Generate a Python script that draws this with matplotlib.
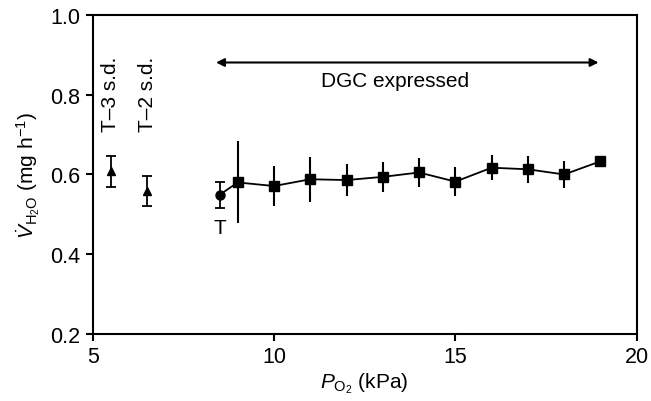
import matplotlib.pyplot as plt

plt.rcParams["font.family"] = ["Liberation Sans", "DejaVu Sans"]
plt.rcParams["mathtext.fontset"] = "custom"
plt.rcParams["mathtext.rm"] = "Liberation Sans"
plt.rcParams["mathtext.it"] = "Liberation Sans:italic"

# threshold points (T-3 s.d., T-2 s.d.)
thr_x = [5.5, 6.5]
thr_y = [0.608, 0.558]
thr_err = [0.039, 0.037]

# T point
t_x = [8.5]
t_y = [0.549]
t_err = [0.032]

# DGC series
po2 = [9, 10, 11, 12, 13, 14, 15, 16, 17, 18, 19]
vh2o = [0.580, 0.571, 0.588, 0.586, 0.594, 0.605, 0.582, 0.617, 0.613, 0.600, 0.633]
vh2o_err = [0.103, 0.051, 0.056, 0.040, 0.037, 0.036, 0.037, 0.032, 0.034, 0.034, 0.012]

fig = plt.figure(figsize=(6.51, 4.02), dpi=100)
ax = fig.add_axes([0.1424, 0.167, 0.8356, 0.793])

ax.errorbar(thr_x, thr_y, yerr=thr_err, fmt="^", color="black", ms=6,
            capsize=3.5, elinewidth=1.3, capthick=1.3)
ax.errorbar(po2, vh2o, yerr=vh2o_err, fmt="s-", color="black", ms=7,
            lw=1.3, capsize=0, elinewidth=1.5)
ax.plot([t_x[0], po2[0]], [t_y[0], vh2o[0]], color="black", lw=1.3)
ax.errorbar(t_x, t_y, yerr=t_err, fmt="o", color="black", ms=6.5,
            capsize=3.5, elinewidth=1.3, capthick=1.3)

ax.text(5.5, 0.71, "T\u20133 s.d.", rotation=90, ha="center", va="bottom", fontsize=15)
ax.text(6.5, 0.71, "T\u20132 s.d.", rotation=90, ha="center", va="bottom", fontsize=15)
ax.text(8.5, 0.468, "T", ha="center", va="center", fontsize=15)

ax.annotate("", xy=(8.4, 0.881), xytext=(18.95, 0.881),
            arrowprops=dict(arrowstyle="<|-|>", color="black", lw=1.5,
                            mutation_scale=12, shrinkA=0, shrinkB=0))
ax.text(13.35, 0.835, "DGC expressed", ha="center", va="center", fontsize=15)

ax.set_xlim(5, 20)
ax.set_ylim(0.2, 1.0)
ax.set_xticks([5, 10, 15, 20])
ax.set_yticks([0.2, 0.4, 0.6, 0.8, 1.0])
ax.set_yticklabels(["0.2", "0.4", "0.6", "0.8", "1.0"])
ax.tick_params(direction="out", length=5, width=1.5, labelsize=15.5, pad=4)
for s in ax.spines.values():
    s.set_linewidth(1.5)

ax.set_xlabel(r"$\mathit{P}_{\mathrm{O_2}}$ (kPa)", fontsize=15, labelpad=2)
ax.set_ylabel(r"$\dot{\mathit{V}}_{\mathrm{H_2O}}$ (mg h$^{-1}$)", fontsize=15, labelpad=6)

fig.savefig("out.png", dpi=100)
